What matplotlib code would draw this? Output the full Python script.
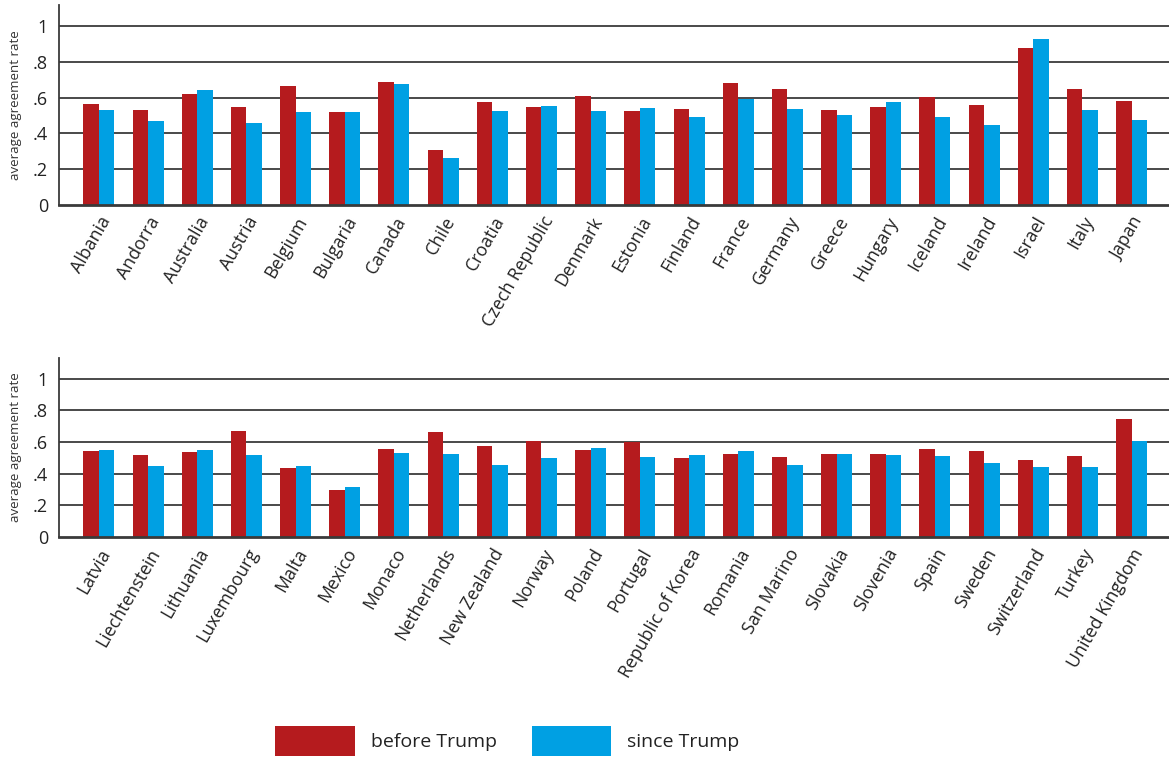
import matplotlib
matplotlib.use("Agg")
import matplotlib.pyplot as plt
from matplotlib.patches import Patch
import numpy as np

plt.rcParams['font.family'] = ['Open Sans', 'DejaVu Sans']

countries_top = ["Albania", "Andorra", "Australia", "Austria", "Belgium", "Bulgaria",
                 "Canada", "Chile", "Croatia", "Czech Republic", "Denmark", "Estonia",
                 "Finland", "France", "Germany", "Greece", "Hungary", "Iceland",
                 "Ireland", "Israel", "Italy", "Japan"]
before_top = [0.566, 0.533, 0.618, 0.546, 0.665, 0.518, 0.687, 0.307, 0.577, 0.547, 0.611,
              0.527, 0.538, 0.683, 0.648, 0.533, 0.546, 0.603, 0.561, 0.879, 0.648, 0.583]
since_top = [0.533, 0.467, 0.641, 0.456, 0.518, 0.518, 0.678, 0.261, 0.525, 0.553, 0.525,
             0.540, 0.490, 0.590, 0.534, 0.503, 0.577, 0.490, 0.447, 0.929, 0.531, 0.475]

countries_bot = ["Latvia", "Liechtenstein", "Lithuania", "Luxembourg", "Malta", "Mexico",
                 "Monaco", "Netherlands", "New Zealand", "Norway", "Poland", "Portugal",
                 "Republic of Korea", "Romania", "San Marino", "Slovakia", "Slovenia",
                 "Spain", "Sweden", "Switzerland", "Turkey", "United Kingdom"]
before_bot = [0.540, 0.517, 0.536, 0.668, 0.435, 0.298, 0.557, 0.660, 0.576, 0.603, 0.546,
              0.601, 0.496, 0.527, 0.508, 0.525, 0.521, 0.557, 0.544, 0.485, 0.511, 0.744]
since_bot = [0.548, 0.447, 0.546, 0.517, 0.447, 0.317, 0.529, 0.521, 0.452, 0.498, 0.561,
             0.508, 0.519, 0.542, 0.454, 0.527, 0.517, 0.511, 0.468, 0.443, 0.445, 0.605]

yticks = [0, 0.2, 0.4, 0.6, 0.8, 1.0]
ytick_labels = ["0", ".2", ".4", ".6", ".8", "1"]
series_names = ["before Trump", "since Trump"]

RED = "#B51B1E"
BLUE = "#00A0E3"
GRID = "#3a3a3a"

fig = plt.figure(figsize=(11.69, 7.6), dpi=100)
ax1 = fig.add_axes([0.0505, 0.7303, 0.9495, 0.2637])
ax2 = fig.add_axes([0.0505, 0.2934, 0.9495, 0.2356])

w = 0.315


def draw(ax, cats, b, s, ytop):
    x = np.arange(len(cats))
    ax.bar(x - w / 2, b, width=w, color=RED, zorder=3)
    ax.bar(x + w / 2, s, width=w, color=BLUE, zorder=3)
    ax.set_xlim(-0.81, len(cats) - 1 + 0.76)
    ax.set_ylim(0, ytop)
    ax.set_yticks(yticks)
    ax.set_yticklabels(ytick_labels, fontsize=13, color="#222222")
    ax.set_xticks(x)
    ax.set_xticklabels(cats, rotation=60, ha='right', rotation_mode='anchor',
                       fontsize=12.8, color="#222222")
    ax.tick_params(axis='both', length=0)
    ax.tick_params(axis='x', pad=6)
    ax.tick_params(axis='y', pad=8)
    for yv in yticks[1:]:
        ax.axhline(yv, color=GRID, lw=1.3, zorder=1)
    for sp in ['top', 'right']:
        ax.spines[sp].set_visible(False)
    ax.spines['left'].set_color(GRID)
    ax.spines['left'].set_linewidth(1.3)
    ax.spines['bottom'].set_color(GRID)
    ax.spines['bottom'].set_linewidth(2)
    ax.spines['bottom'].set_zorder(4)
    ax.set_ylabel("average agreement rate", fontsize=9.5, color="#333333", labelpad=8)


draw(ax1, countries_top, before_top, since_top, 1.12)
draw(ax2, countries_bot, before_bot, since_bot, 1.13)

handles = [Patch(facecolor=RED, edgecolor='none'), Patch(facecolor=BLUE, edgecolor='none')]
fig.legend(handles, series_names, loc='center', bbox_to_anchor=(0.434, 0.025), ncol=2,
           frameon=False, fontsize=14, handlelength=4.1, handleheight=1.95,
           handletextpad=0.8, columnspacing=1.8, labelcolor="#222222")

fig.savefig("out.png", dpi=100)
